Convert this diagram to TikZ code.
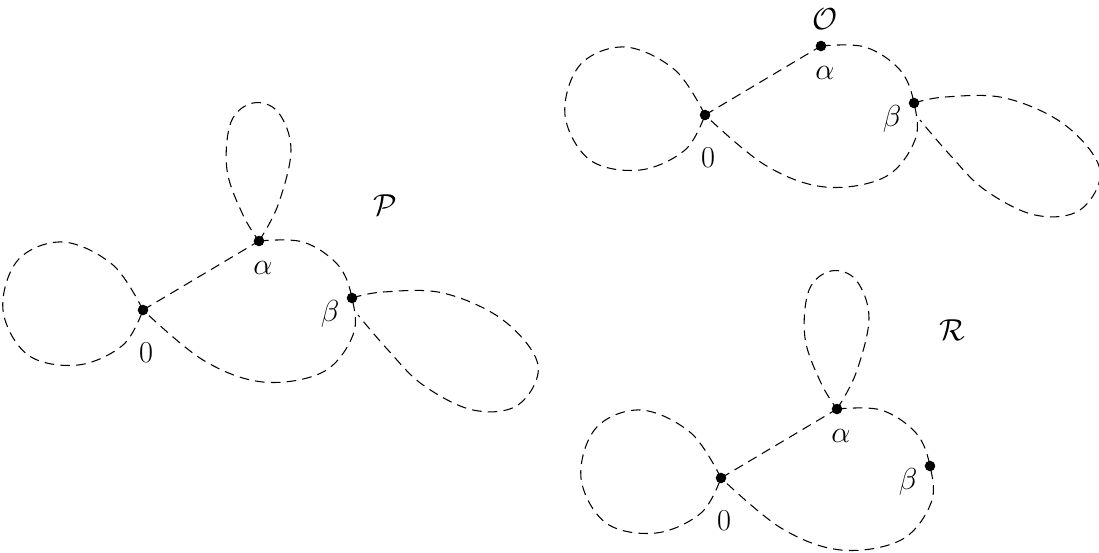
\documentclass[tikz,border=0pt]{standalone}
\begin{document}
\begin{tikzpicture}[x=0.02cm,y=-0.02cm,
  crv/.style={dash pattern=on 5.5pt off 3.5pt,line width=0.6pt},
  dot/.style={circle,fill,inner sep=0pt,minimum size=6pt},
  lbl/.style={font=\LARGE}]
\useasboundingbox (0,0) rectangle (1099,552);
\newcommand{\basefig}{%
  \draw[crv] plot[smooth,tension=0.6] coordinates {(0,0) (-30,-45) (-80,-68) (-125,-50) (-140,0) (-115,45) (-65,55) (-20,35) (0,0)};
  \draw[crv] (0,0) -- (116,-69);
  \draw[crv] plot[smooth,tension=0.6] coordinates {(116,-69) (160,-68) (195,-45) (209,-12) (210,25) (180,62) (120,72) (60,50) (0,0)};
  \node[dot] (z) at (0,0) {};
  \node[dot] (a) at (116,-69) {};
  \node[dot] (b) at (209,-12) {};
  \node[lbl] at (3,43) {$0$};
  \node[lbl] at (120,-42) {$\alpha$};
  \node[lbl] at (187,4) {$\beta$};
}
\newcommand{\toploop}{%
  \draw[crv] plot[smooth,tension=0.6] coordinates {(116,-69) (135,-105) (148,-160) (135,-198) (110,-207) (88,-188) (84,-140) (100,-95) (116,-69)};}
\newcommand{\rightloop}{%
  \draw[crv] plot[smooth,tension=0.6] coordinates {(209,-12) (240,-18) (300,-17) (360,10) (395,55) (375,95) (330,100) (280,75) (245,40) (215,5)};}
\begin{scope}[shift={(143,310)}]\basefig\toploop\rightloop\end{scope}
\begin{scope}[shift={(705,115)}]\basefig\rightloop\end{scope}
\begin{scope}[shift={(721,478)}]\basefig\toploop\end{scope}
\node[lbl] (P) at (385,205) {$\mathcal{P}$};
\node[lbl] (O) at (825,19) {$\mathcal{O}$};
\node[lbl] (R) at (952,330) {$\mathcal{R}$};
\end{tikzpicture}
\end{document}
